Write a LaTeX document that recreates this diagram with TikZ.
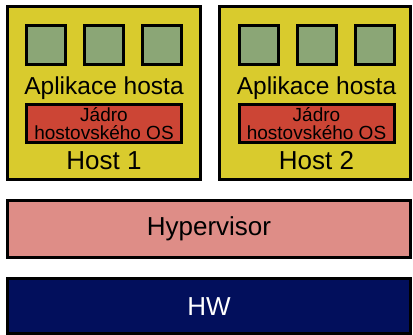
\documentclass[tikz,border=0pt]{standalone}
\usepackage{fontspec}
\setmainfont{Liberation Sans}
\definecolor{hostyellow}{HTML}{D9CB2D}
\definecolor{appgreen}{HTML}{8BA676}
\definecolor{kernred}{HTML}{CC4535}
\definecolor{hyppink}{HTML}{DE8D87}
\definecolor{hwnavy}{HTML}{020F5C}
\tikzset{
  box/.style={draw=black, line width=3pt, rectangle, inner sep=0pt},
  hostbox/.style={box, fill=hostyellow, minimum height=173pt},
  appbox/.style={box, fill=appgreen, minimum width=39pt, minimum height=39pt},
  kernbox/.style={box, fill=kernred, minimum width=155pt, minimum height=38pt,
    align=center, font=\fontsize{19}{18}\selectfont},
  layerbox/.style={box, minimum width=403pt},
  apptext/.style={anchor=base, inner sep=0pt, font=\fontsize{24.5}{26}\selectfont},
  hosttext/.style={anchor=base, inner sep=0pt, font=\fontsize{26}{28}\selectfont},
}
\begin{document}
\begin{tikzpicture}[x=1pt, y=-1pt]
\useasboundingbox (0,0) rectangle (413,335);
% hosts
\node[hostbox, minimum width=193pt] (host1) at (104,93) {};
\node[hostbox, minimum width=191pt] (host2) at (315,93) {};
% apps host 1
\node[appbox] (a11) at (46,45) {};
\node[appbox] (a12) at (104,45) {};
\node[appbox] (a13) at (162,45) {};
% apps host 2
\node[appbox] (a21) at (259,45) {};
\node[appbox] (a22) at (317,45) {};
\node[appbox] (a23) at (375,45) {};
% texts
\node[apptext] (t1) at (104,94.5) {Aplikace hosta};
\node[apptext] (t2) at (316.5,94.5) {Aplikace hosta};
\node[kernbox] (k1) at (104,123.5) {Jádro\\hostovského OS};
\node[kernbox] (k2) at (316.5,123.5) {Jádro\\hostovského OS};
\node[hosttext] (h1) at (104,169.5) {Host 1};
\node[hosttext] (h2) at (316.5,169.5) {Host 2};
% layers
\node[layerbox, fill=hyppink, minimum height=57pt, font=\fontsize{26}{28}\selectfont] (hyp) at (209,229) {Hypervisor};
\node[layerbox, fill=hwnavy, minimum height=54.5pt, text=white, font=\fontsize{26}{28}\selectfont, text height=18.6pt, text depth=0pt] (hw) at (209,306) {HW};
\end{tikzpicture}
\end{document}
